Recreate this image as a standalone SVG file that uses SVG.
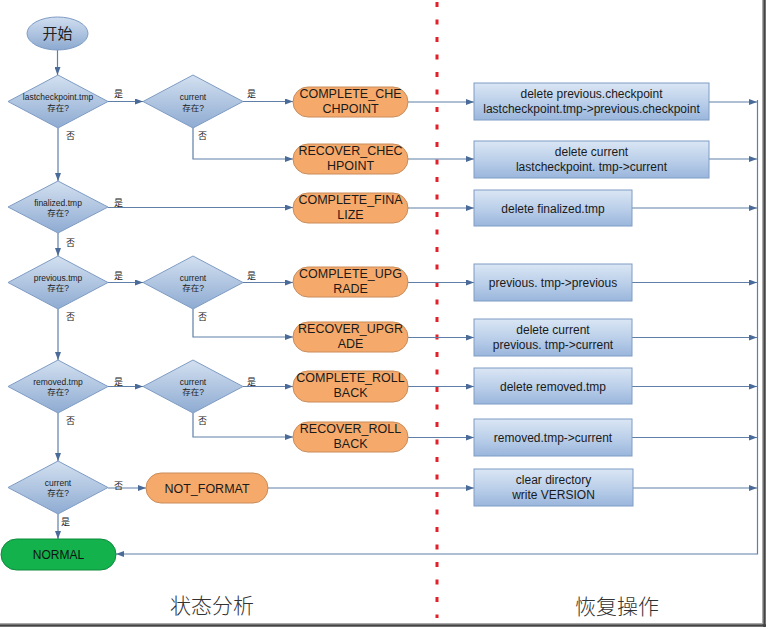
<svg xmlns="http://www.w3.org/2000/svg" width="768" height="629" viewBox="0 0 768 629">
<defs>
<linearGradient id="gDia" x1="0" y1="0" x2="0" y2="1">
<stop offset="0" stop-color="#d3e0f0"/><stop offset="1" stop-color="#8eabd2"/>
</linearGradient>
<linearGradient id="gBox" x1="0" y1="0" x2="0" y2="1">
<stop offset="0" stop-color="#dae6f4"/><stop offset="0.5" stop-color="#bcd0ea"/><stop offset="1" stop-color="#9ab6dc"/>
</linearGradient>
<linearGradient id="gStart" x1="0" y1="0" x2="0" y2="1">
<stop offset="0" stop-color="#d0def0"/><stop offset="1" stop-color="#8ca9d0"/>
</linearGradient>
<marker id="ah" viewBox="0 0 8 6" refX="8" refY="3" markerWidth="8" markerHeight="6" markerUnits="userSpaceOnUse" orient="auto">
<path d="M0,0 L8,3 L0,6 Z" fill="#4a6a98"/>
</marker>
<style>
.dia{fill:url(#gDia);stroke:#7f9cc4;stroke-width:1}
.box{fill:url(#gBox);stroke:#7f9cc4;stroke-width:1}
.pill{fill:#f5aa6c;stroke:#c98c5a;stroke-width:1}
.con{fill:none;stroke:#5f7fa8;stroke-width:1.2}
.arr{marker-end:url(#ah)}
.dt{font-family:"Liberation Sans","Noto Sans CJK SC",sans-serif;font-size:8.5px;fill:#222;text-anchor:middle}
.pt{font-family:"Liberation Sans",sans-serif;font-size:12.5px;fill:#1a1a1a;text-anchor:middle}
.bt{font-family:"Liberation Sans",sans-serif;font-size:12px;fill:#1a1a1a;text-anchor:middle}
.lb{font-family:"Noto Sans CJK SC",sans-serif;font-size:9px;fill:#222}
.ft{font-family:"Noto Sans CJK SC",sans-serif;font-size:21px;fill:#333;text-anchor:middle;font-weight:300}
</style>
</defs>
<rect x="0" y="0" width="768" height="629" fill="#ffffff"/>

<!-- frame shadow -->
<line x1="762.5" y1="0" x2="762.5" y2="625" stroke="#aaaaaa" stroke-width="1"/>
<line x1="764.5" y1="0" x2="764.5" y2="627" stroke="#444444" stroke-width="2.5"/>
<line x1="0" y1="623.5" x2="763" y2="623.5" stroke="#aaaaaa" stroke-width="1"/>
<line x1="0" y1="625.5" x2="766" y2="625.5" stroke="#444444" stroke-width="2.5"/>

<!-- red divider -->
<line x1="437" y1="2" x2="437" y2="618" stroke="#e0202a" stroke-width="3" stroke-dasharray="5 12.5"/>

<g id="connectors">
<path class="con arr" d="M57.5,50 V75"/>
<path class="con arr" d="M58,128 V181"/>
<path class="con arr" d="M108,101.5 H143"/>
<path class="con arr" d="M243,101.5 H293"/>
<path class="con arr" d="M193,128 V159 H293"/>
<path class="con arr" d="M408,102 H474"/>
<path class="con arr" d="M408,159 H474"/>
<path class="con arr" d="M709,102 H757"/>
<path class="con arr" d="M709,159 H757"/>
<path class="con arr" d="M108,207.5 H293"/>
<path class="con arr" d="M408,208 H474"/>
<path class="con arr" d="M632,208 H757"/>
<path class="con arr" d="M58,233 V256"/>
<path class="con arr" d="M108,282.5 H143"/>
<path class="con arr" d="M243,282.5 H293"/>
<path class="con arr" d="M408,282.5 H474"/>
<path class="con arr" d="M632,282.5 H757"/>
<path class="con arr" d="M193,309 V337 H293"/>
<path class="con arr" d="M408,337.5 H474"/>
<path class="con arr" d="M632,337.5 H757"/>
<path class="con arr" d="M58,309 V360"/>
<path class="con arr" d="M108,386.5 H143"/>
<path class="con arr" d="M243,386.5 H293"/>
<path class="con arr" d="M408,386.5 H474"/>
<path class="con arr" d="M632,386.5 H757"/>
<path class="con arr" d="M193,413 V437 H293"/>
<path class="con arr" d="M408,437.5 H474"/>
<path class="con arr" d="M632,437.5 H757"/>
<path class="con arr" d="M58,413 V461"/>
<path class="con arr" d="M108,488 H146"/>
<path class="con arr" d="M268,488 H474"/>
<path class="con arr" d="M633,488 H757"/>
<path class="con arr" d="M58,514 V539"/>
<path class="con arr" d="M757.5,100 V554 H116"/>
<text class="lb" x="114" y="97">是</text>
<text class="lb" x="247" y="97">是</text>
<text class="lb" x="66" y="139">否</text>
<text class="lb" x="198" y="139">否</text>
<text class="lb" x="114" y="206">是</text>
<text class="lb" x="66" y="246">否</text>
<text class="lb" x="114" y="279">是</text>
<text class="lb" x="247" y="279">是</text>
<text class="lb" x="66" y="320">否</text>
<text class="lb" x="198" y="320">否</text>
<text class="lb" x="114" y="385">是</text>
<text class="lb" x="247" y="385">是</text>
<text class="lb" x="66" y="424">否</text>
<text class="lb" x="198" y="424">否</text>
<text class="lb" x="114" y="489">否</text>
<text class="lb" x="61" y="525">是</text>
</g>

<g id="start">
<ellipse cx="57.5" cy="33.5" rx="30.5" ry="16.5" fill="url(#gStart)" stroke="#7f9cc4"/>
<text x="57.5" y="39" font-family="'Noto Sans CJK SC',sans-serif" font-size="15" fill="#222" text-anchor="middle">开始</text>
</g>

<g id="d1"><polygon class="dia" points="58,75 108,101.5 58,128 8,101.5"/>
<text class="dt" x="58" y="100">lastcheckpoint.tmp</text><text class="dt" x="58" y="111">存在?</text></g>
<g id="c1"><polygon class="dia" points="193,75 243,101.5 193,128 143,101.5"/>
<text class="dt" x="193" y="100">current</text><text class="dt" x="193" y="111">存在?</text></g>
<g id="d2"><polygon class="dia" points="58,181 108,207 58,233 8,207"/>
<text class="dt" x="58" y="206">finalized.tmp</text><text class="dt" x="58" y="216">存在?</text></g>
<g id="d3"><polygon class="dia" points="58,256 108,282.5 58,309 8,282.5"/>
<text class="dt" x="58" y="281">previous.tmp</text><text class="dt" x="58" y="291">存在?</text></g>
<g id="c2"><polygon class="dia" points="193,256 243,282.5 193,309 143,282.5"/>
<text class="dt" x="193" y="281">current</text><text class="dt" x="193" y="291">存在?</text></g>
<g id="d4"><polygon class="dia" points="58,360 108,386.5 58,413 8,386.5"/>
<text class="dt" x="58" y="385">removed.tmp</text><text class="dt" x="58" y="395">存在?</text></g>
<g id="c3"><polygon class="dia" points="193,360 243,386.5 193,413 143,386.5"/>
<text class="dt" x="193" y="385">current</text><text class="dt" x="193" y="395">存在?</text></g>
<g id="d5"><polygon class="dia" points="58,461 108,487.5 58,514 8,487.5"/>
<text class="dt" x="58" y="486">current</text><text class="dt" x="58" y="496">存在?</text></g>

<g id="p1"><rect class="pill" x="293" y="87" width="115" height="30" rx="15"/>
<text class="pt" x="350.5" y="98">COMPLETE_CHE</text><text class="pt" x="350.5" y="113">CHPOINT</text></g>
<g id="p2"><rect class="pill" x="293" y="144" width="115" height="30" rx="15"/>
<text class="pt" x="350.5" y="155">RECOVER_CHEC</text><text class="pt" x="350.5" y="170">HPOINT</text></g>
<g id="p3"><rect class="pill" x="293" y="193" width="115" height="30" rx="15"/>
<text class="pt" x="350.5" y="204">COMPLETE_FINA</text><text class="pt" x="350.5" y="219">LIZE</text></g>
<g id="p4"><rect class="pill" x="293" y="267" width="115" height="30" rx="15"/>
<text class="pt" x="350.5" y="278">COMPLETE_UPG</text><text class="pt" x="350.5" y="293">RADE</text></g>
<g id="p5"><rect class="pill" x="293" y="322" width="115" height="30" rx="15"/>
<text class="pt" x="350.5" y="333">RECOVER_UPGR</text><text class="pt" x="350.5" y="348">ADE</text></g>
<g id="p6"><rect class="pill" x="293" y="371" width="115" height="31" rx="15"/>
<text class="pt" x="350.5" y="382">COMPLETE_ROLL</text><text class="pt" x="350.5" y="397">BACK</text></g>
<g id="p7"><rect class="pill" x="293" y="422" width="115" height="30" rx="15"/>
<text class="pt" x="350.5" y="433">RECOVER_ROLL</text><text class="pt" x="350.5" y="448">BACK</text></g>
<g id="nf"><rect class="pill" x="146" y="473" width="122" height="30" rx="15"/>
<text class="pt" x="207" y="493">NOT_FORMAT</text></g>
<g id="normal"><rect x="1" y="539" width="115" height="31" rx="15.5" fill="#13b24c" stroke="#0f8a3c"/>
<text x="58.5" y="559" font-family="'Liberation Sans',sans-serif" font-size="12" fill="#111" text-anchor="middle">NORMAL</text></g>

<g id="b1"><rect class="box" x="474" y="83" width="235" height="37"/>
<text class="bt" x="591.5" y="98">delete previous.checkpoint</text><text class="bt" x="591.5" y="113">lastcheckpoint.tmp-&gt;previous.checkpoint</text></g>
<g id="b2"><rect class="box" x="474" y="141" width="235" height="37"/>
<text class="bt" x="591.5" y="156">delete current</text><text class="bt" x="591.5" y="171">lastcheckpoint. tmp-&gt;current</text></g>
<g id="b3"><rect class="box" x="474" y="190" width="158" height="36"/>
<text class="bt" x="553" y="212.5">delete finalized.tmp</text></g>
<g id="b4"><rect class="box" x="474" y="264" width="158" height="37"/>
<text class="bt" x="553" y="287">previous. tmp-&gt;previous</text></g>
<g id="b5"><rect class="box" x="474" y="319" width="158" height="37"/>
<text class="bt" x="553" y="334">delete current</text><text class="bt" x="553" y="349">previous. tmp-&gt;current</text></g>
<g id="b6"><rect class="box" x="474" y="368" width="158" height="36"/>
<text class="bt" x="553" y="391">delete removed.tmp</text></g>
<g id="b7"><rect class="box" x="474" y="419" width="158" height="37"/>
<text class="bt" x="553" y="442">removed.tmp-&gt;current</text></g>
<g id="b8"><rect class="box" x="474" y="469" width="159" height="37"/>
<text class="bt" x="553.5" y="484">clear directory</text><text class="bt" x="553.5" y="499">write VERSION</text></g>

<text class="ft" x="212" y="613">状态分析</text>
<text class="ft" x="617" y="614">恢复操作</text>
</svg>
